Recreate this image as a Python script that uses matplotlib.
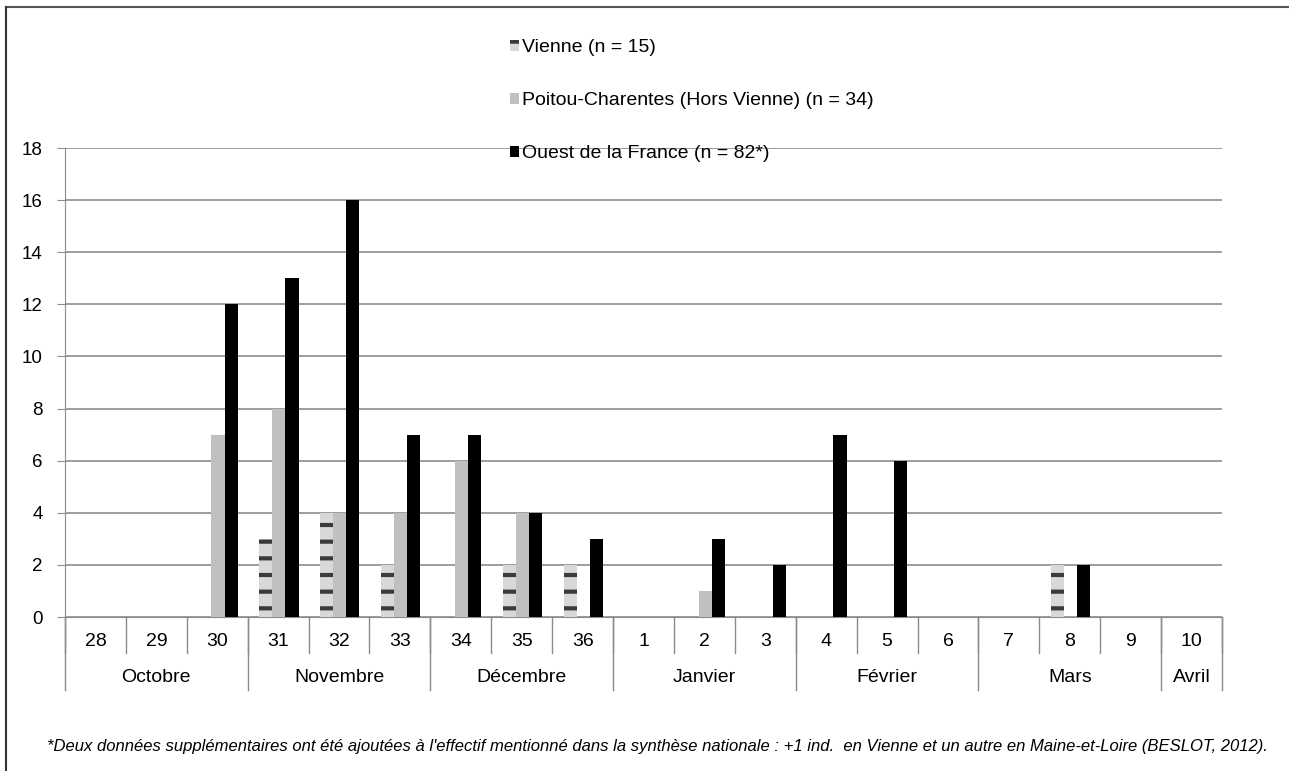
import numpy as np
import matplotlib.pyplot as plt

plt.rcParams['font.family'] = ['Liberation Sans', 'DejaVu Sans']

weeks = ['28', '29', '30', '31', '32', '33', '34', '35', '36',
         '1', '2', '3', '4', '5', '6', '7', '8', '9', '10']
vienne = [0, 0, 0, 3, 4, 2, 0, 2, 2, 0, 0, 0, 0, 0, 0, 0, 2, 0, 0]
poitou = [0, 0, 7, 8, 4, 4, 6, 4, 0, 0, 1, 0, 0, 0, 0, 0, 0, 0, 0]
ouest = [0, 0, 12, 13, 16, 7, 7, 4, 3, 0, 3, 2, 7, 6, 0, 0, 2, 0, 0]
months = ['Octobre', 'Novembre', 'Décembre', 'Janvier', 'Février', 'Mars', 'Avril']
month_len = [3, 3, 3, 3, 3, 3, 1]

labels = ['Vienne (n = 15)', 'Poitou-Charentes (Hors Vienne) (n = 34)',
          'Ouest de la France (n = 82*)']

W, H = 1289, 771
fig = plt.figure(figsize=(W / 100, H / 100), dpi=100)
ax = fig.add_axes([65 / W, 1 - 617 / H, (1222 - 65) / W, (617 - 148) / H])

x = np.arange(len(weeks))
bw = 0.215
plt.rcParams['hatch.linewidth'] = 3
b1 = ax.bar(x - bw + 0.012, vienne, bw, color='#d8d8d8', edgecolor='#3a3a3a',
            hatch='-', linewidth=0, label=labels[0], zorder=3)
b2 = ax.bar(x + 0.012, poitou, bw, color='#c0c0c0', linewidth=0,
            label=labels[1], zorder=3)
b3 = ax.bar(x + bw + 0.012, ouest, bw, color='black', linewidth=0,
            label=labels[2], zorder=3)

ax.set_xlim(-0.5, len(weeks) - 0.5)
ax.set_ylim(0, 18)
ax.set_yticks(range(0, 19, 2))
ax.yaxis.grid(True, color='#8c8c8c', linewidth=1.2)
ax.set_axisbelow(True)
for s in ['top', 'right']:
    ax.spines[s].set_visible(False)
ax.spines['left'].set_color('#8c8c8c')
ax.spines['bottom'].set_color('#8c8c8c')
ax.tick_params(axis='y', length=6, color='#8c8c8c', labelsize=13.5, pad=10)
ax.set_xticks([])

# two-level category axis
tr = ax.get_xaxis_transform()
for i, w in enumerate(weeks):
    ax.text(i, -0.053, w, transform=tr, ha='center', va='center', fontsize=14)
for i in range(len(weeks) + 1):
    ax.plot([i - 0.5, i - 0.5], [0, -0.077], transform=tr, color='#8c8c8c',
            linewidth=1, clip_on=False)
start = 0
for m, n in zip(months, month_len):
    ax.text(start + n / 2 - 0.5, -0.13, m, transform=tr, ha='center',
            va='center', fontsize=14)
    ax.plot([start - 0.5, start - 0.5], [0, -0.156], transform=tr,
            color='#8c8c8c', linewidth=1, clip_on=False)
    start += n
ax.plot([start - 0.5, start - 0.5], [0, -0.156], transform=tr,
        color='#8c8c8c', linewidth=1, clip_on=False)

fig.legend(handles=[b1, b2, b3], loc='upper left',
           bbox_to_anchor=(492 / W, 1 - 22 / H), frameon=False, fontsize=14,
           handlelength=0.5, handleheight=0.5, handletextpad=0.15,
           labelspacing=1.85)

fig.text(47 / W, 1 - 746 / H,
         "*Deux données supplémentaires ont été ajoutées à l'effectif mentionné "
         "dans la synthèse nationale : +1 ind.  en Vienne et un autre en "
         "Maine-et-Loire (BESLOT, 2012).",
         ha='left', va='center', fontsize=12, style='italic')

# frame of the screenshot
fig.add_artist(plt.Line2D([6 / W, 1], [1 - 7 / H, 1 - 7 / H], color='#555555',
                          linewidth=1.5))
fig.add_artist(plt.Line2D([6 / W, 6 / W], [0, 1 - 7 / H], color='#333333',
                          linewidth=1.5))

fig.savefig('out.png', dpi=100)
